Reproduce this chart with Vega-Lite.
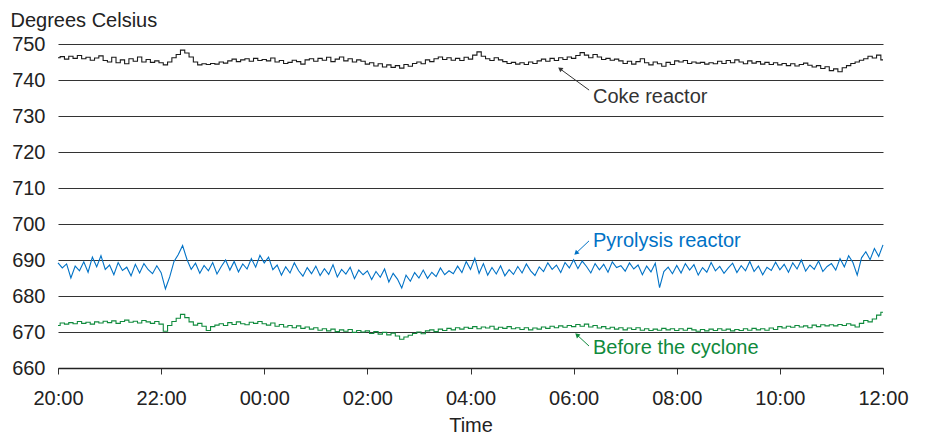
{
  "$schema": "https://vega.github.io/schema/vega-lite/v6.json",
  "width": 825,
  "height": 324,
  "autosize": {"type": "none"},
  "padding": {"left": 58, "top": 44, "right": 42, "bottom": 66},
  "config": {
    "font": "Liberation Sans",
    "view": {"stroke": null},
    "axis": {"labelFontSize": 20, "labelColor": "#222", "titleFontSize": 20, "titleFontWeight": "normal", "titleColor": "#222", "labelFont": "Liberation Sans", "titleFont": "Liberation Sans", "labelOverlap": false}
  },
  "datasets": {
    "series": [
      {"m":0,"c":746.2,"p":689.2,"b":671.8},{"m":5,"c":746.5,"p":687.8,"b":672.5},{"m":10,"c":745.8,"p":688.9,"b":672.2},{"m":15,"c":746.6,"p":685.0,"b":672.6},{"m":20,"c":746.0,"p":688.3,"b":672.3},{"m":25,"c":746.8,"p":687.0,"b":672.9},{"m":30,"c":745.9,"p":689.5,"b":672.4},{"m":35,"c":746.3,"p":686.6,"b":672.7},{"m":40,"c":745.5,"p":690.8,"b":672.2},{"m":45,"c":746.1,"p":688.1,"b":672.8},{"m":50,"c":746.7,"p":691.2,"b":672.5},{"m":55,"c":745.4,"p":687.4,"b":673.0},
      {"m":60,"c":745.0,"p":688.6,"b":672.6},{"m":65,"c":746.3,"p":685.9,"b":673.1},{"m":70,"c":744.8,"p":689.3,"b":672.4},{"m":75,"c":745.6,"p":687.1,"b":672.9},{"m":80,"c":744.5,"p":688.0,"b":673.3},{"m":85,"c":745.9,"p":685.6,"b":672.7},{"m":90,"c":745.2,"p":688.8,"b":673.0},{"m":95,"c":746.4,"p":686.4,"b":672.5},{"m":100,"c":745.0,"p":689.0,"b":673.2},{"m":105,"c":745.7,"p":687.3,"b":672.8},{"m":110,"c":744.9,"p":686.2,"b":672.4},{"m":115,"c":745.3,"p":688.4,"b":672.9},
      {"m":120,"c":744.8,"p":686.5,"b":672.2},{"m":125,"c":744.2,"p":682.0,"b":670.2},{"m":130,"c":745.0,"p":685.3,"b":671.8},{"m":135,"c":746.2,"p":689.6,"b":672.9},{"m":140,"c":747.1,"p":691.5,"b":673.8},{"m":145,"c":748.3,"p":694.0,"b":674.9},{"m":150,"c":747.5,"p":690.2,"b":674.0},{"m":155,"c":746.4,"p":687.4,"b":672.8},{"m":160,"c":745.0,"p":689.1,"b":671.9},{"m":165,"c":744.2,"p":686.3,"b":672.4},{"m":170,"c":744.5,"p":688.5,"b":671.6},{"m":175,"c":744.3,"p":687.0,"b":670.4},
      {"m":180,"c":744.6,"p":689.3,"b":671.5},{"m":185,"c":744.4,"p":686.1,"b":671.9},{"m":190,"c":745.0,"p":688.2,"b":672.3},{"m":195,"c":744.7,"p":690.0,"b":671.8},{"m":200,"c":745.3,"p":687.2,"b":672.6},{"m":205,"c":745.8,"p":689.6,"b":672.1},{"m":210,"c":745.1,"p":686.7,"b":672.8},{"m":215,"c":745.6,"p":688.9,"b":672.3},{"m":220,"c":745.9,"p":687.5,"b":672.0},{"m":225,"c":745.2,"p":690.4,"b":672.7},{"m":230,"c":746.0,"p":688.0,"b":672.4},{"m":235,"c":745.4,"p":691.3,"b":672.9},
      {"m":240,"c":745.7,"p":689.2,"b":672.3},{"m":245,"c":745.3,"p":690.8,"b":671.9},{"m":250,"c":746.1,"p":687.3,"b":672.5},{"m":255,"c":745.0,"p":688.6,"b":671.6},{"m":260,"c":745.4,"p":685.8,"b":672.1},{"m":265,"c":744.6,"p":688.1,"b":671.4},{"m":270,"c":744.9,"p":686.4,"b":671.8},{"m":275,"c":745.5,"p":689.2,"b":671.2},{"m":280,"c":745.1,"p":687.0,"b":671.7},{"m":285,"c":744.4,"p":685.5,"b":671.0},{"m":290,"c":745.6,"p":687.9,"b":671.4},{"m":295,"c":745.9,"p":686.2,"b":670.8},
      {"m":300,"c":745.2,"p":688.3,"b":671.2},{"m":305,"c":746.0,"p":685.7,"b":670.5},{"m":310,"c":745.5,"p":687.6,"b":670.9},{"m":315,"c":746.3,"p":686.0,"b":670.3},{"m":320,"c":745.1,"p":688.7,"b":670.8},{"m":325,"c":745.8,"p":685.3,"b":670.1},{"m":330,"c":746.4,"p":687.4,"b":670.6},{"m":335,"c":745.3,"p":686.1,"b":670.2},{"m":340,"c":745.9,"p":688.0,"b":670.7},{"m":345,"c":745.0,"p":684.8,"b":669.9},{"m":350,"c":745.6,"p":687.2,"b":670.4},{"m":355,"c":745.2,"p":685.9,"b":670.0},
      {"m":360,"c":744.4,"p":687.0,"b":670.3},{"m":365,"c":744.8,"p":684.6,"b":669.6},{"m":370,"c":743.9,"p":686.8,"b":670.1},{"m":375,"c":744.5,"p":685.2,"b":669.4},{"m":380,"c":743.6,"p":687.5,"b":669.9},{"m":385,"c":744.2,"p":683.9,"b":669.2},{"m":390,"c":743.5,"p":686.3,"b":669.7},{"m":395,"c":744.0,"p":684.7,"b":668.9},{"m":400,"c":743.3,"p":682.2,"b":668.0},{"m":405,"c":744.3,"p":685.8,"b":668.6},{"m":410,"c":743.8,"p":684.1,"b":669.1},{"m":415,"c":744.6,"p":686.5,"b":669.6},
      {"m":420,"c":745.0,"p":685.0,"b":670.0},{"m":425,"c":744.5,"p":687.2,"b":669.5},{"m":430,"c":745.6,"p":684.9,"b":670.3},{"m":435,"c":745.1,"p":686.6,"b":670.6},{"m":440,"c":745.9,"p":685.4,"b":670.1},{"m":445,"c":746.4,"p":687.8,"b":670.8},{"m":450,"c":745.7,"p":685.9,"b":670.4},{"m":455,"c":746.2,"p":687.0,"b":671.0},{"m":460,"c":745.5,"p":686.2,"b":670.6},{"m":465,"c":746.0,"p":688.3,"b":671.2},{"m":470,"c":745.4,"p":686.5,"b":670.8},{"m":475,"c":746.3,"p":689.6,"b":671.3},
      {"m":480,"c":745.8,"p":687.4,"b":671.0},{"m":485,"c":746.9,"p":690.5,"b":671.5},{"m":490,"c":747.8,"p":686.3,"b":670.9},{"m":495,"c":746.6,"p":689.0,"b":671.4},{"m":500,"c":745.9,"p":685.8,"b":671.1},{"m":505,"c":745.4,"p":687.9,"b":671.6},{"m":510,"c":746.2,"p":686.1,"b":670.8},{"m":515,"c":745.6,"p":688.4,"b":671.3},{"m":520,"c":745.1,"p":685.6,"b":671.0},{"m":525,"c":744.6,"p":687.3,"b":671.5},{"m":530,"c":744.9,"p":686.0,"b":670.9},{"m":535,"c":744.4,"p":688.2,"b":671.2},
      {"m":540,"c":744.8,"p":686.4,"b":670.7},{"m":545,"c":744.3,"p":688.9,"b":671.2},{"m":550,"c":745.0,"p":687.0,"b":670.6},{"m":555,"c":744.6,"p":685.7,"b":671.1},{"m":560,"c":745.3,"p":688.1,"b":670.8},{"m":565,"c":745.8,"p":686.8,"b":671.4},{"m":570,"c":745.2,"p":689.2,"b":671.0},{"m":575,"c":746.0,"p":687.4,"b":671.6},{"m":580,"c":745.4,"p":688.6,"b":671.2},{"m":585,"c":746.2,"p":686.5,"b":671.7},{"m":590,"c":745.7,"p":689.3,"b":671.3},{"m":595,"c":746.4,"p":687.8,"b":671.8},
      {"m":600,"c":746.0,"p":690.1,"b":671.5},{"m":605,"c":746.8,"p":687.6,"b":672.1},{"m":610,"c":747.6,"p":689.7,"b":671.6},{"m":615,"c":746.9,"p":688.2,"b":672.2},{"m":620,"c":746.2,"p":686.4,"b":671.4},{"m":625,"c":747.1,"p":689.0,"b":671.8},{"m":630,"c":746.4,"p":687.3,"b":671.1},{"m":635,"c":745.7,"p":688.8,"b":671.5},{"m":640,"c":746.0,"p":686.6,"b":670.9},{"m":645,"c":745.5,"p":689.5,"b":671.3},{"m":650,"c":745.8,"p":687.9,"b":670.8},{"m":655,"c":745.3,"p":688.4,"b":671.2},
      {"m":660,"c":744.6,"p":686.9,"b":670.6},{"m":665,"c":745.2,"p":689.2,"b":671.1},{"m":670,"c":744.4,"p":687.5,"b":670.7},{"m":675,"c":745.1,"p":688.6,"b":671.2},{"m":680,"c":745.9,"p":685.9,"b":670.5},{"m":685,"c":744.8,"p":688.3,"b":670.9},{"m":690,"c":744.2,"p":686.7,"b":670.4},{"m":695,"c":745.0,"p":689.1,"b":670.8},{"m":700,"c":744.5,"p":682.3,"b":670.5},{"m":705,"c":743.8,"p":686.8,"b":671.0},{"m":710,"c":744.9,"p":688.0,"b":670.6},{"m":715,"c":744.3,"p":686.2,"b":670.9},
      {"m":720,"c":745.3,"p":688.5,"b":670.4},{"m":725,"c":745.0,"p":686.4,"b":670.9},{"m":730,"c":745.4,"p":689.0,"b":670.5},{"m":735,"c":744.6,"p":687.2,"b":671.0},{"m":740,"c":745.0,"p":688.7,"b":670.6},{"m":745,"c":744.7,"p":685.8,"b":670.2},{"m":750,"c":744.9,"p":687.9,"b":670.7},{"m":755,"c":744.4,"p":686.6,"b":670.3},{"m":760,"c":744.8,"p":689.3,"b":670.8},{"m":765,"c":744.5,"p":687.0,"b":670.4},{"m":770,"c":745.2,"p":688.2,"b":670.9},{"m":775,"c":744.6,"p":686.3,"b":670.5},
      {"m":780,"c":745.4,"p":687.8,"b":670.8},{"m":785,"c":744.8,"p":689.1,"b":670.3},{"m":790,"c":745.6,"p":686.5,"b":670.7},{"m":795,"c":745.0,"p":688.4,"b":670.4},{"m":800,"c":744.5,"p":687.0,"b":670.9},{"m":805,"c":745.3,"p":689.6,"b":670.5},{"m":810,"c":744.7,"p":686.8,"b":671.0},{"m":815,"c":745.1,"p":688.3,"b":670.6},{"m":820,"c":744.4,"p":685.9,"b":670.9},{"m":825,"c":744.9,"p":688.0,"b":670.5},{"m":830,"c":744.3,"p":687.1,"b":671.1},{"m":835,"c":744.8,"p":689.4,"b":670.7},
      {"m":840,"c":744.2,"p":687.3,"b":671.5},{"m":845,"c":744.6,"p":688.8,"b":671.1},{"m":850,"c":744.0,"p":686.6,"b":671.6},{"m":855,"c":744.5,"p":689.2,"b":671.3},{"m":860,"c":743.9,"p":687.5,"b":671.8},{"m":865,"c":744.3,"p":690.0,"b":671.4},{"m":870,"c":744.7,"p":686.9,"b":671.7},{"m":875,"c":744.1,"p":688.6,"b":671.2},{"m":880,"c":743.6,"p":687.4,"b":671.9},{"m":885,"c":744.0,"p":689.7,"b":671.5},{"m":890,"c":743.2,"p":686.8,"b":672.0},{"m":895,"c":743.7,"p":688.2,"b":671.7},
      {"m":900,"c":742.6,"p":689.0,"b":672.0},{"m":905,"c":743.1,"p":687.2,"b":671.7},{"m":910,"c":742.3,"p":690.4,"b":672.1},{"m":915,"c":743.4,"p":688.1,"b":671.8},{"m":920,"c":744.0,"p":691.2,"b":672.3},{"m":925,"c":744.6,"p":689.3,"b":671.9},{"m":930,"c":745.0,"p":685.8,"b":671.4},{"m":935,"c":745.5,"p":690.6,"b":672.4},{"m":940,"c":745.9,"p":692.3,"b":673.2},{"m":945,"c":746.6,"p":690.1,"b":672.8},{"m":950,"c":746.1,"p":693.2,"b":673.6},{"m":955,"c":746.9,"p":691.0,"b":674.7},{"m":960,"c":745.6,"p":694.2,"b":675.5}
    ],
    "notes": [
      {"s": "Coke reactor", "m": 618.0, "v": 737.2, "m2": 584.2, "v2": 743.1, "tm": 622.5, "tv": 735.3},
      {"s": "Pyrolysis reactor", "m": 617.9, "v": 695.3, "m2": 602.8, "v2": 691.9, "tm": 622.5, "tv": 695.3},
      {"s": "Before the cyclone", "m": 617.9, "v": 666.1, "m2": 603.9, "v2": 669.2, "tm": 622.5, "tv": 665.6}
    ]
  },
  "layer": [
    {
      "data": {"name": "series"},
      "transform": [{"fold": ["c", "b"], "as": ["k", "val"]}],
      "mark": {"type": "line", "strokeWidth": 1.1, "interpolate": "step"},
      "encoding": {
        "x": {"field": "m", "type": "quantitative", "title": "Time", "scale": {"domain": [0, 960], "nice": false},
          "axis": {"values": [0,120,240,360,480,600,720,840,960], "labelExpr": "(((datum.value/60+20)%24)<10?'0':'')+((datum.value/60+20)%24)+':00'", "grid": false, "tickSize": 6, "tickColor": "#333", "domainColor": "#222", "domainWidth": 1.5, "labelPadding": 14, "labelFlush": false, "titlePadding": 7}},
        "y": {"field": "val", "type": "quantitative", "title": "Degrees Celsius", "scale": {"domain": [660, 750], "nice": false, "zero": false},
          "axis": {"values": [660,670,680,690,700,710,720,730,740,750], "grid": true, "gridColor": "#333", "gridWidth": 1.1, "domain": false, "ticks": false, "labelPadding": 13, "titleAngle": 0, "titleAlign": "left", "titleBaseline": "alphabetic", "titleX": -48, "titleY": -18}},
        "color": {"field": "k", "type": "nominal", "legend": null, "scale": {"domain": ["c", "b"], "range": ["#1a1a1a", "#0f8a3c"]}},
        "detail": {"field": "k"}
      }
    },
    {
      "data": {"name": "series"},
      "mark": {"type": "line", "strokeWidth": 1.1, "color": "#0072c6"},
      "encoding": {
        "x": {"field": "m", "type": "quantitative", "title": "Time", "scale": {"domain": [0, 960], "nice": false},
          "axis": {"values": [0,120,240,360,480,600,720,840,960], "labelExpr": "(((datum.value/60+20)%24)<10?'0':'')+((datum.value/60+20)%24)+':00'", "grid": false, "tickSize": 6, "tickColor": "#333", "domainColor": "#222", "domainWidth": 1.5, "labelPadding": 14, "labelFlush": false, "titlePadding": 7}},
        "y": {"field": "p", "type": "quantitative", "title": "Degrees Celsius", "scale": {"domain": [660, 750], "nice": false, "zero": false},
          "axis": {"values": [660,670,680,690,700,710,720,730,740,750], "grid": true, "gridColor": "#333", "gridWidth": 1.1, "domain": false, "ticks": false, "labelPadding": 13, "titleAngle": 0, "titleAlign": "left", "titleBaseline": "alphabetic", "titleX": -48, "titleY": -18}}
      }
    },
    {
      "data": {"name": "notes"},
      "mark": {"type": "rule", "strokeWidth": 1},
      "encoding": {
        "x": {"field": "m", "type": "quantitative", "title": "Time", "scale": {"domain": [0, 960], "nice": false}, "axis": {"values": [0,120,240,360,480,600,720,840,960], "labelExpr": "(((datum.value/60+20)%24)<10?'0':'')+((datum.value/60+20)%24)+':00'", "grid": false, "tickSize": 6, "tickColor": "#333", "domainColor": "#222", "domainWidth": 1.5, "labelPadding": 14, "labelFlush": false, "titlePadding": 7}},
        "y": {"field": "v", "type": "quantitative", "title": "Degrees Celsius", "scale": {"domain": [660, 750], "nice": false, "zero": false}, "axis": {"values": [660,670,680,690,700,710,720,730,740,750], "grid": true, "gridColor": "#333", "gridWidth": 1.1, "domain": false, "ticks": false, "labelPadding": 13, "titleAngle": 0, "titleAlign": "left", "titleBaseline": "alphabetic", "titleX": -48, "titleY": -18}},
        "x2": {"field": "m2"},
        "y2": {"field": "v2"},
        "color": {"field": "s", "type": "nominal", "legend": null, "scale": {"domain": ["Coke reactor", "Pyrolysis reactor", "Before the cyclone"], "range": ["#333333", "#0072c6", "#0f8a3c"]}}
      }
    },
    {
      "data": {"name": "notes"},
      "transform": [{"filter": "datum.s === 'Coke reactor'"}],
      "mark": {"type": "point", "shape": "triangle-up", "filled": true, "size": 28, "angle": 306, "opacity": 1, "color": "#333333"},
      "encoding": {
        "x": {"field": "m2", "type": "quantitative", "title": "Time", "scale": {"domain": [0, 960], "nice": false}, "axis": {"values": [0,120,240,360,480,600,720,840,960], "labelExpr": "(((datum.value/60+20)%24)<10?'0':'')+((datum.value/60+20)%24)+':00'", "grid": false, "tickSize": 6, "tickColor": "#333", "domainColor": "#222", "domainWidth": 1.5, "labelPadding": 14, "labelFlush": false, "titlePadding": 7}},
        "y": {"field": "v2", "type": "quantitative", "title": "Degrees Celsius", "scale": {"domain": [660, 750], "nice": false, "zero": false}, "axis": {"values": [660,670,680,690,700,710,720,730,740,750], "grid": true, "gridColor": "#333", "gridWidth": 1.1, "domain": false, "ticks": false, "labelPadding": 13, "titleAngle": 0, "titleAlign": "left", "titleBaseline": "alphabetic", "titleX": -48, "titleY": -18}}
      }
    },
    {
      "data": {"name": "notes"},
      "transform": [{"filter": "datum.s === 'Pyrolysis reactor'"}],
      "mark": {"type": "point", "shape": "triangle-up", "filled": true, "size": 28, "angle": 227, "opacity": 1, "color": "#0072c6"},
      "encoding": {
        "x": {"field": "m2", "type": "quantitative", "title": "Time", "scale": {"domain": [0, 960], "nice": false}, "axis": {"values": [0,120,240,360,480,600,720,840,960], "labelExpr": "(((datum.value/60+20)%24)<10?'0':'')+((datum.value/60+20)%24)+':00'", "grid": false, "tickSize": 6, "tickColor": "#333", "domainColor": "#222", "domainWidth": 1.5, "labelPadding": 14, "labelFlush": false, "titlePadding": 7}},
        "y": {"field": "v2", "type": "quantitative", "title": "Degrees Celsius", "scale": {"domain": [660, 750], "nice": false, "zero": false}, "axis": {"values": [660,670,680,690,700,710,720,730,740,750], "grid": true, "gridColor": "#333", "gridWidth": 1.1, "domain": false, "ticks": false, "labelPadding": 13, "titleAngle": 0, "titleAlign": "left", "titleBaseline": "alphabetic", "titleX": -48, "titleY": -18}}
      }
    },
    {
      "data": {"name": "notes"},
      "transform": [{"filter": "datum.s === 'Before the cyclone'"}],
      "mark": {"type": "point", "shape": "triangle-up", "filled": true, "size": 28, "angle": 312, "opacity": 1, "color": "#0f8a3c"},
      "encoding": {
        "x": {"field": "m2", "type": "quantitative", "title": "Time", "scale": {"domain": [0, 960], "nice": false}, "axis": {"values": [0,120,240,360,480,600,720,840,960], "labelExpr": "(((datum.value/60+20)%24)<10?'0':'')+((datum.value/60+20)%24)+':00'", "grid": false, "tickSize": 6, "tickColor": "#333", "domainColor": "#222", "domainWidth": 1.5, "labelPadding": 14, "labelFlush": false, "titlePadding": 7}},
        "y": {"field": "v2", "type": "quantitative", "title": "Degrees Celsius", "scale": {"domain": [660, 750], "nice": false, "zero": false}, "axis": {"values": [660,670,680,690,700,710,720,730,740,750], "grid": true, "gridColor": "#333", "gridWidth": 1.1, "domain": false, "ticks": false, "labelPadding": 13, "titleAngle": 0, "titleAlign": "left", "titleBaseline": "alphabetic", "titleX": -48, "titleY": -18}}
      }
    },
    {
      "data": {"name": "notes"},
      "mark": {"type": "text", "align": "left", "baseline": "middle", "fontSize": 20, "font": "Liberation Sans"},
      "encoding": {
        "x": {"field": "tm", "type": "quantitative", "title": "Time", "scale": {"domain": [0, 960], "nice": false}, "axis": {"values": [0,120,240,360,480,600,720,840,960], "labelExpr": "(((datum.value/60+20)%24)<10?'0':'')+((datum.value/60+20)%24)+':00'", "grid": false, "tickSize": 6, "tickColor": "#333", "domainColor": "#222", "domainWidth": 1.5, "labelPadding": 14, "labelFlush": false, "titlePadding": 7}},
        "y": {"field": "tv", "type": "quantitative", "title": "Degrees Celsius", "scale": {"domain": [660, 750], "nice": false, "zero": false}, "axis": {"values": [660,670,680,690,700,710,720,730,740,750], "grid": true, "gridColor": "#333", "gridWidth": 1.1, "domain": false, "ticks": false, "labelPadding": 13, "titleAngle": 0, "titleAlign": "left", "titleBaseline": "alphabetic", "titleX": -48, "titleY": -18}},
        "text": {"field": "s"},
        "color": {"field": "s", "type": "nominal", "legend": null, "scale": {"domain": ["Coke reactor", "Pyrolysis reactor", "Before the cyclone"], "range": ["#333333", "#0072c6", "#0f8a3c"]}}
      }
    }
  ],
  "resolve": {"scale": {"color": "independent"}}
}
